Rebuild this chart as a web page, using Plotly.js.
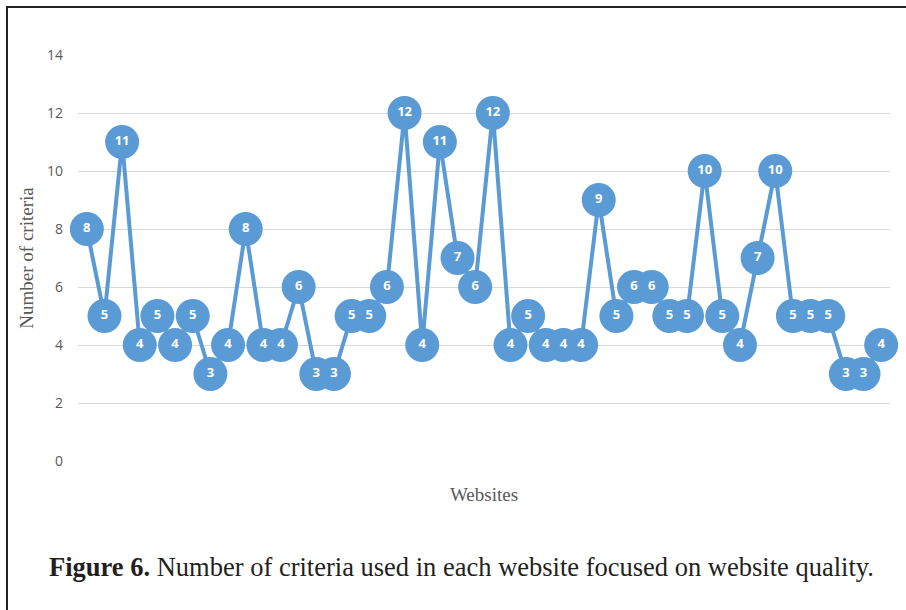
<!DOCTYPE html>
<html>
<head>
<meta charset="utf-8">
<script src="https://cdn.plot.ly/plotly-3.0.1.min.js"></script>
<style>
  html, body { margin: 0; padding: 0; background: #fff; }
  #wrap { position: relative; width: 906px; height: 610px; overflow: hidden; }
  #chart { position: absolute; left: 0; top: 0; width: 906px; height: 610px; }
  #frame { position: absolute; left: 6px; top: 6px; width: 920px; height: 620px;
           border-left: 2px solid #222; border-top: 2px solid #222; pointer-events: none; }
</style>
</head>
<body>
<div id="wrap">
  <div id="chart"></div>
  <div id="frame"></div>
</div>
<script>
const websites = ["1","2","3","4","5","6","7","8","9","10","11","12","13","14","15","16","17","18","19","20","21","22","23","24","25","26","27","28","29","30","31","32","33","34","35","36","37","38","39","40","41","42","43","44","45","46"];
const criteria = [8,5,11,4,5,4,5,3,4,8,4,4,6,3,3,5,5,6,12,4,11,7,6,12,4,5,4,4,4,9,5,6,6,5,5,10,5,4,7,10,5,5,5,3,3,4];
const yTicks = [0,2,4,6,8,10,12,14];
const caption = "<b>Figure 6.</b> Number of criteria used in each website focused on website quality.";

const blue = "#5B9BD5";
const trace = {
  x: websites,
  y: criteria,
  type: "scatter",
  mode: "lines+markers+text",
  line: { color: blue, width: 4 },
  marker: { color: blue, size: 34, line: { width: 0 } },
  text: criteria.map(String),
  textposition: "middle center",
  textfont: { family: "Open Sans, Liberation Sans, sans-serif", size: 13, color: "#ffffff", weight: "bold" },
  cliponaxis: false,
  hoverinfo: "x+y"
};

const layout = {
  width: 906, height: 610,
  margin: { l: 78, r: 16, t: 55, b: 149 },
  paper_bgcolor: "#ffffff",
  plot_bgcolor: "#ffffff",
  showlegend: false,
  xaxis: {
    type: "category",
    range: [-0.5, websites.length - 0.5],
    autorange: false,
    showticklabels: false,
    showgrid: false,
    zeroline: false,
    showline: false,
    ticks: "",
    title: { text: "Websites", font: { family: "Liberation Serif, serif", size: 19, color: "#595959" }, standoff: 26 }
  },
  yaxis: {
    range: [0, 14],
    autorange: false,
    tickvals: yTicks,
    ticktext: yTicks.map(String),
    showgrid: true,
    gridcolor: "#d9d9d9",
    gridwidth: 1,
    zeroline: false,
    showline: false,
    ticks: "",
    ticklabelstandoff: 14,
    tickfont: { family: "Open Sans, Liberation Sans, sans-serif", size: 14, color: "#595959" },
    title: { text: "Number of criteria", font: { family: "Liberation Serif, serif", size: 19, color: "#595959" }, standoff: 8 }
  },
  annotations: [{
    text: caption,
    xref: "paper", yref: "paper",
    x: (461 - 78) / 812, y: (461 - 567) / 406,
    xanchor: "center", yanchor: "middle",
    showarrow: false,
    font: { family: "Liberation Serif, Times New Roman, serif", size: 26.5, color: "#231f20" }
  }]
};

Plotly.newPlot("chart", [trace], layout, { displayModeBar: false, staticPlot: true });
</script>
</body>
</html>
